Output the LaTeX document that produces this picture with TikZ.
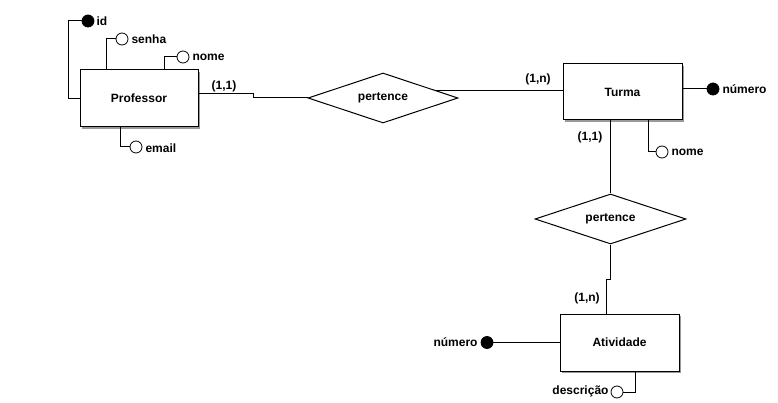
\documentclass[tikz,border=0pt]{standalone}
\usepackage{fontspec}
\setmainfont{Liberation Sans}
\usetikzlibrary{shapes.geometric,shadows}
\begin{document}
\begin{tikzpicture}[x=1pt,y=-1pt,line width=1pt,
  every node/.style={font=\fontsize{12}{14}\selectfont\bfseries},
  entity/.style={draw,fill=white,rectangle,inner sep=0,minimum width=118pt,minimum height=57pt,
     drop shadow={shadow xshift=2pt,shadow yshift=-2pt,fill=gray!80,opacity=1}},
  rel/.style={draw,fill=white,diamond,aspect=3,inner sep=0,minimum width=150pt,minimum height=50pt},
  keyattr/.style={draw,fill=black,circle,inner sep=0,minimum size=12pt,line width=0.8pt},
  attr/.style={draw,fill=white,circle,inner sep=0,minimum size=12pt,line width=0.8pt},
  lbl/.style={inner sep=0}]
\useasboundingbox (0,0) rectangle (778,403);
% entities
\node[entity] (prof) at (139,98.5) {Professor};
\node[entity,minimum width=119pt,minimum height=56pt] (turma) at (622.5,92) {Turma};
\node[entity,minimum width=119pt] (ativ) at (619.5,342.5) {Atividade};
% relationships
\node[rel] (p1) at (383,98) {pertence};
\node[rel,minimum width=151pt] (p2) at (610.5,219) {pertence};
% attributes of Professor
\node[keyattr] (idc) at (88,21) {};
\node[lbl,anchor=west] (idl) at (96,21) {id};
\node[attr] (senc) at (122,39) {};
\node[lbl,anchor=west] (senl) at (131,39) {senha};
\node[attr] (nomc) at (183,57) {};
\node[lbl,anchor=west] (noml) at (192,57) {nome};
\node[attr] (emc) at (136,147) {};
\node[lbl,anchor=west] (eml) at (145,148) {email};
% attributes of Turma
\node[keyattr] (tnc) at (713,89) {};
\node[lbl,anchor=west] (tnl) at (722,89) {número};
\node[attr] (tnoc) at (662,152) {};
\node[lbl,anchor=west] (tnol) at (671,152) {nome};
% attributes of Atividade
\node[keyattr] (anc) at (487,342.5) {};
\node[lbl,anchor=east] (anl) at (478,342) {número};
\node[attr] (dc) at (617,392) {};
\node[lbl,anchor=east] (dl) at (609,391) {descrição};
% cardinalities
\node[lbl] (c1) at (224,86) {(1,1)};
\node[lbl] (c2) at (538,79) {(1,n)};
\node[lbl] (c3) at (590,137) {(1,1)};
\node[lbl] (c4) at (587,298) {(1,n)};
% attribute connectors
\draw (idc.west) -| ([xshift=-11pt]prof.west) -- (prof.west);
\draw (senc.west) -| ([xshift=-33pt]prof.north);
\draw (nomc.west) -| ([xshift=25pt]prof.north);
\draw ([xshift=-19pt]prof.south) |- (emc.west);
\draw (turma.east |- tnc.west) -- (tnc.west);
\draw ([xshift=25.5pt]turma.south) |- (tnoc.west);
\draw (anc.east) -- (ativ.west);
\draw ([xshift=15.5pt]ativ.south) |- (dc.east);
% relationship connectors
\draw ([yshift=4.5pt]prof.east) -- ++(55,0) |- (p1.west);
\draw (p1.8.9) -- (p1.8.9 -| turma.west);
\draw (p2.north) -- (p2.north |- turma.south);
\draw (p2.south) -- ++(0,35) -| ([xshift=-13.5pt]ativ.north);
\end{tikzpicture}
\end{document}
